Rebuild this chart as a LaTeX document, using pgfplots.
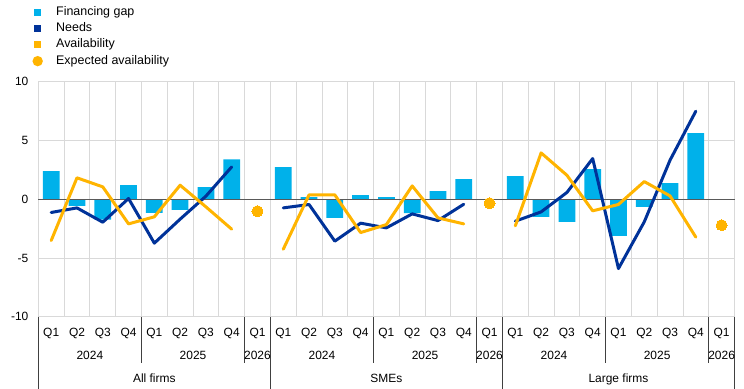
\documentclass[border=0pt]{standalone}
\usepackage{fontspec}
\setmainfont{Liberation Sans}
\usepackage{graphicx}
\usepackage{pgfplots}
\pgfplotsset{compat=1.18}
\definecolor{gapc}{HTML}{00B1EA}
\definecolor{needc}{HTML}{003299}
\definecolor{availc}{HTML}{FFB400}
\definecolor{gridc}{HTML}{D9D9D9}
\definecolor{zeroc}{HTML}{595959}
\definecolor{sepc}{HTML}{404040}
\begin{document}
\begin{tikzpicture}
\path[use as bounding box] (-38.3bp,-72.3bp) rectangle (705.7bp,316.7bp);
\begin{axis}[
  scale only axis, width=696.2bp, height=235bp,
  xmin=-0.5, xmax=26.5, ymin=-10, ymax=10,
  axis line style={draw=none},
  major tick length=0pt, minor tick length=0pt,
  xtick={0,...,26},
  xticklabels={Q1,Q2,Q3,Q4,Q1,Q2,Q3,Q4,Q1,Q1,Q2,Q3,Q4,Q1,Q2,Q3,Q4,Q1,Q1,Q2,Q3,Q4,Q1,Q2,Q3,Q4,Q1},
  minor xtick={-0.5,0.5,...,26.5},
  xminorgrids=true,
  ytick={-10,-5,0,5,10},
  yticklabels={-10,-5,0,5,10},
  ymajorgrids=true,
  grid style={gridc, line width=0.8bp},
  minor grid style={gridc, line width=0.8bp},
  tick label style={font=\fontsize{12}{14}\selectfont},
  xticklabel style={anchor=base, inner sep=0pt, yshift=-19.3bp},
  yticklabel style={anchor=east, inner sep=0pt, xshift=-9.8bp},
  clip=false,
  unbounded coords=jump,
  legend cell align=left,
  legend style={at={(axis description cs:-0.0062,1.322)}, anchor=north west,
    draw=none, fill=none, inner sep=0pt, row sep=4.3bp, column sep=15bp,
    font=\fontsize{12.5}{14}\selectfont,
    nodes={inner sep=0pt, text height=9bp, text depth=3bp}},
]
\addlegendimage{draw=none, fill=gapc, legend image code/.code={\path[use as bounding box] (0bp,-3.5bp) rectangle (7bp,3.5bp); \fill[gapc, draw=none] (0bp,-3.5bp) rectangle (7bp,3.5bp);}}
\addlegendentry{Financing gap}
\addlegendimage{draw=none, fill=needc, legend image code/.code={\path[use as bounding box] (0bp,-3.5bp) rectangle (7bp,3.5bp); \fill[needc, draw=none] (0bp,-2.3bp) rectangle (7bp,2.3bp);}}
\addlegendentry{Needs}
\addlegendimage{draw=none, fill=availc, legend image code/.code={\path[use as bounding box] (0bp,-3.5bp) rectangle (7bp,3.5bp); \fill[availc, draw=none] (0bp,-2.3bp) rectangle (7bp,2.3bp);}}
\addlegendentry{Availability}
\addlegendimage{draw=none, fill=availc, legend image code/.code={\path[use as bounding box] (0bp,-3.5bp) rectangle (7bp,3.5bp); \fill[availc, draw=none] (3.5bp,0bp) circle (5.2bp);}}
\addlegendentry{Expected availability}

% Financing gap bars
\addplot[ybar, bar width=0.65, bar shift=0pt, fill=gapc, draw=none, forget plot] coordinates {
(0,2.38)(1,-0.57)(2,-1.73)(3,1.19)(4,-1.16)(5,-0.91)(6,1.02)(7,3.40)
(9,2.72)(10,0.17)(11,-1.59)(12,0.34)(13,0.17)(14,-1.19)(15,0.68)(16,1.70)
(18,1.96)(19,-1.50)(20,-1.93)(21,2.55)(22,-3.12)(23,-0.65)(24,1.36)(25,5.62)};

\draw[zeroc, line width=1bp] (axis cs:-0.5,0) -- (axis cs:26.5,0);

% Needs
\addplot[needc, line width=3bp, line cap=round, line join=round, mark=none, forget plot] coordinates {
(0,-1.13)(1,-0.74)(2,-1.96)(3,0.06)(4,-3.74)(5,-1.70)(6,0.26)(7,2.75)
(8,nan)
(9,-0.74)(10,-0.45)(11,-3.57)(12,-2.04)(13,-2.44)(14,-1.25)(15,-1.82)(16,-0.43)
(17,nan)
(18,-1.87)(19,-1.08)(20,0.57)(21,3.46)(22,-5.90)(23,-1.93)(24,3.32)(25,7.49)};

% Availability
\addplot[availc, line width=3bp, line cap=round, line join=round, mark=none, forget plot] coordinates {
(0,-3.52)(1,1.82)(2,1.05)(3,-2.10)(4,-1.50)(5,1.19)(6,-0.65)(7,-2.55)
(8,nan)
(9,-4.26)(10,0.37)(11,0.37)(12,-2.84)(13,-2.16)(14,1.13)(15,-1.59)(16,-2.10)
(17,nan)
(18,-2.27)(19,3.94)(20,2.04)(21,-0.99)(22,-0.45)(23,1.50)(24,0.28)(25,-3.23)};

% Expected availability
\addplot[availc, only marks, mark=*, mark size=5.5bp, mark options={fill=availc, draw=availc, line width=0pt}, forget plot] coordinates {
(8,-1.02)(17,-0.34)(26,-2.21)};

% separators below axis
\pgfplotsinvokeforeach{3.5,7.5,12.5,16.5,21.5,25.5}{
  \draw[sepc, line width=0.8bp] (axis cs:#1,-10) -- ([yshift=-46.3bp]axis cs:#1,-10);
}
\pgfplotsinvokeforeach{-0.5,8.5,17.5,26.5}{
  \draw[sepc, line width=0.8bp] (axis cs:#1,-10) -- ([yshift=-72.3bp]axis cs:#1,-10);
}

% year and group labels
\begin{scope}[every node/.style={font=\fontsize{12}{14}\selectfont, inner sep=0pt, anchor=base}]
\node at ([yshift=-42.3bp]axis cs:1.5,-10) {2024};
\node at ([yshift=-42.3bp]axis cs:5.5,-10) {2025};
\node at ([yshift=-42.3bp]axis cs:8,-10) {2026};
\node at ([yshift=-42.3bp]axis cs:10.5,-10) {2024};
\node at ([yshift=-42.3bp]axis cs:14.5,-10) {2025};
\node at ([yshift=-42.3bp]axis cs:17,-10) {2026};
\node at ([yshift=-42.3bp]axis cs:19.5,-10) {2024};
\node at ([yshift=-42.3bp]axis cs:23.5,-10) {2025};
\node at ([yshift=-42.3bp]axis cs:26,-10) {2026};
\node at ([yshift=-65.3bp]axis cs:4,-10) {All firms};
\node at ([yshift=-65.3bp]axis cs:13,-10) {SMEs};
\node at ([yshift=-65.3bp]axis cs:22,-10) {Large firms};
\end{scope}
\end{axis}
\end{tikzpicture}
\end{document}
